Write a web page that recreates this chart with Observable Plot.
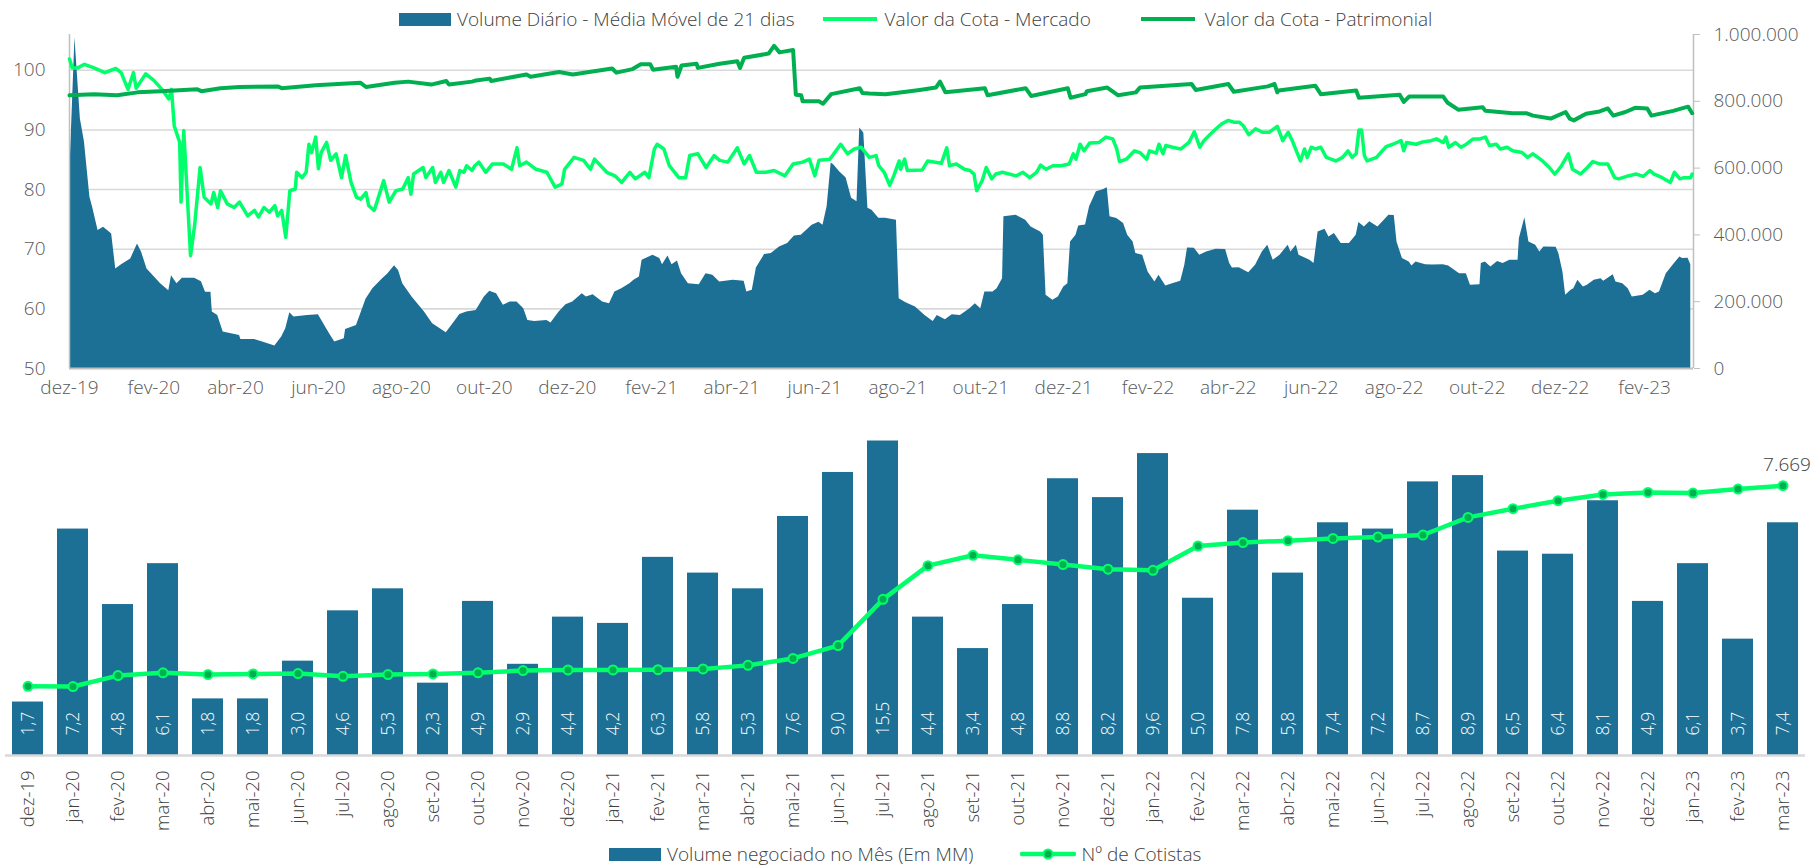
<!DOCTYPE html>
<html lang="pt-BR">
<head>
<meta charset="utf-8">
<script src="https://cdn.jsdelivr.net/npm/d3@7"></script>
<script src="https://cdn.jsdelivr.net/npm/@observablehq/plot@0.6"></script>
<style>
  html, body { margin: 0; padding: 0; background: #fff; overflow: hidden; }
  #root { position: relative; width: 1812px; height: 865px; font-family: 'Open Sans', 'DejaVu Sans', sans-serif; font-weight: 300; }
  .layer { position: absolute; left: 0; }
  .layer svg { display: block; max-width: none !important; font-weight: 300; }
  .legend { position: absolute; display: flex; align-items: center; white-space: nowrap; color: #404040; font-weight: 300; }
  .legend .item { display: flex; align-items: center; }
</style>
</head>
<body>
<div id="root"></div>
<script>
// ---------------- DATA ----------------
// Volume diário - média móvel de 21 dias
const volumeDiario = [
["2019-12-01",560000],["2019-12-05",990000],["2019-12-09",747000],["2019-12-12",678000],["2019-12-16",513000],["2019-12-18",483000],["2019-12-22",413000],["2019-12-26",423000],["2019-12-29",413000],
["2020-01-01",403000],["2020-01-04",298000],["2020-01-08",310000],["2020-01-15",328000],["2020-01-20",373000],["2020-01-23",348000],["2020-01-27",298000],
["2020-02-06",254000],["2020-02-12",233000],["2020-02-14",278000],["2020-02-18",254000],["2020-02-22",270000],
["2020-03-02",270000],["2020-03-07",260000],["2020-03-10",228000],["2020-03-14",228000],["2020-03-15",169000],["2020-03-19",159000],["2020-03-23",109000],["2020-03-29",104000],
["2020-04-04",99000],["2020-04-05",87000],["2020-04-15",87000],["2020-04-21",79000],["2020-04-30",67000],
["2020-05-05",94000],["2020-05-08",119000],["2020-05-11",167000],["2020-05-14",154000],["2020-05-24",159000],
["2020-06-01",161000],["2020-06-07",119000],["2020-06-10",99000],["2020-06-13",79000],["2020-06-20",89000],["2020-06-21",117000],["2020-06-29",129000],
["2020-07-06",207000],["2020-07-11",239000],["2020-07-18",268000],["2020-07-22",283000],["2020-07-27",308000],["2020-07-30",293000],
["2020-08-02",254000],["2020-08-09",213000],["2020-08-18",169000],["2020-08-24",134000],
["2020-09-03",107000],["2020-09-08",134000],["2020-09-13",162000],["2020-09-18",169000],["2020-09-25",174000],
["2020-10-01",214000],["2020-10-05",231000],["2020-10-10",224000],["2020-10-15",189000],["2020-10-20",199000],["2020-10-25",199000],["2020-10-30",179000],
["2020-11-02",144000],["2020-11-07",141000],["2020-11-16",144000],["2020-11-19",136000],["2020-11-25",169000],["2020-11-30",191000],
["2020-12-05",199000],["2020-12-12",224000],["2020-12-15",214000],["2020-12-20",221000],["2020-12-27",199000],
["2021-01-01",194000],["2021-01-05",229000],["2021-01-10",239000],["2021-01-16",254000],["2021-01-19",264000],["2021-01-23",274000],["2021-01-25",324000],
["2021-02-02",339000],["2021-02-07",329000],["2021-02-09",311000],["2021-02-13",337000],["2021-02-16",311000],["2021-02-20",322000],["2021-02-23",284000],["2021-02-28",254000],
["2021-03-08",251000],["2021-03-13",284000],["2021-03-18",279000],["2021-03-23",259000],
["2021-04-02",264000],["2021-04-10",261000],["2021-04-12",229000],["2021-04-16",234000],["2021-04-19",301000],["2021-04-25",341000],["2021-04-30",344000],
["2021-05-06",364000],["2021-05-12",374000],["2021-05-17",397000],["2021-05-22",399000],["2021-05-30",429000],
["2021-06-04",438000],["2021-06-07",429000],["2021-06-10",484000],["2021-06-13",615000],["2021-06-15",609000],["2021-06-19",590000],["2021-06-24",570000],["2021-06-28",510000],
["2021-07-02",499000],["2021-07-04",720000],["2021-07-07",705000],["2021-07-10",480000],["2021-07-13",474000],["2021-07-18",450000],["2021-07-23",450000],["2021-07-31",444000],
["2021-08-02",209000],["2021-08-07",197000],["2021-08-14",184000],["2021-08-21",159000],["2021-08-27",141000],["2021-08-30",159000],
["2021-09-05",146000],["2021-09-10",161000],["2021-09-16",159000],["2021-09-23",179000],["2021-09-27",194000],
["2021-10-01",179000],["2021-10-04",229000],["2021-10-10",229000],["2021-10-13",239000],["2021-10-17",269000],["2021-10-18",454000],["2021-10-27",459000],
["2021-11-03",444000],["2021-11-07",424000],["2021-11-14",409000],["2021-11-16",399000],["2021-11-18",219000],["2021-11-23",204000],["2021-11-27",214000],
["2021-12-01",244000],["2021-12-04",254000],["2021-12-06",379000],["2021-12-10",399000],["2021-12-12",427000],["2021-12-17",430000],["2021-12-20",484000],["2021-12-25",529000],["2021-12-30",535000],
["2022-01-02",541000],["2022-01-04",454000],["2022-01-09",449000],["2022-01-14",434000],["2022-01-17",399000],["2022-01-21",379000],["2022-01-23",344000],["2022-01-28",339000],
["2022-02-01",289000],["2022-02-06",259000],["2022-02-09",279000],["2022-02-14",247000],["2022-02-19",254000],["2022-02-25",261000],["2022-02-28",309000],
["2022-03-02",361000],["2022-03-07",360000],["2022-03-11",339000],["2022-03-16",349000],["2022-03-23",357000],["2022-03-30",356000],
["2022-04-02",314000],["2022-04-04",301000],["2022-04-09",302000],["2022-04-16",287000],["2022-04-21",309000],["2022-04-26",349000],["2022-04-30",369000],
["2022-05-04",324000],["2022-05-09",339000],["2022-05-15",369000],["2022-05-17",349000],["2022-05-21",369000],["2022-05-23",339000],["2022-05-31",324000],
["2022-06-03",314000],["2022-06-06",409000],["2022-06-11",417000],["2022-06-14",394000],["2022-06-18",404000],["2022-06-23",374000],["2022-06-29",374000],
["2022-07-04",399000],["2022-07-06",437000],["2022-07-10",424000],["2022-07-14",439000],["2022-07-20",424000],["2022-07-26",450000],["2022-07-28",459000],
["2022-08-01",458000],["2022-08-03",379000],["2022-08-07",329000],["2022-08-12",319000],["2022-08-14",307000],["2022-08-17",319000],["2022-08-24",311000],["2022-08-29",310000],
["2022-09-06",311000],["2022-09-10",307000],["2022-09-18",284000],["2022-09-23",284000],["2022-09-26",249000],
["2022-10-03",251000],["2022-10-04",314000],["2022-10-07",319000],["2022-10-11",304000],["2022-10-16",320000],["2022-10-20",314000],["2022-10-25",324000],["2022-10-31",324000],
["2022-11-01",389000],["2022-11-05",451000],["2022-11-08",379000],["2022-11-13",369000],["2022-11-16",349000],["2022-11-19",364000],["2022-11-28",363000],["2022-11-30",344000],
["2022-12-03",289000],["2022-12-05",219000],["2022-12-09",234000],["2022-12-11",239000],["2022-12-14",264000],["2022-12-18",244000],["2022-12-21",249000],["2022-12-26",264000],["2022-12-31",269000],
["2023-01-02",261000],["2023-01-09",281000],["2023-01-11",259000],["2023-01-16",254000],["2023-01-20",239000],["2023-01-23",214000],["2023-01-31",219000],
["2023-02-05",234000],["2023-02-09",224000],["2023-02-12",229000],["2023-02-17",284000],["2023-02-23",314000],["2023-02-27",334000],
["2023-03-01",329000],["2023-03-05",330000],["2023-03-07",311000]
];

// Valor da Cota - Mercado
const cotaMercado = [
["2019-12-01",101.9],["2019-12-03",100.4],["2019-12-07",100.4],["2019-12-12",101.0],["2019-12-19",100.4],["2019-12-27",99.6],
["2020-01-04",100.3],["2020-01-08",99.6],["2020-01-13",96.8],["2020-01-17",99.6],["2020-01-19",97.0],["2020-01-26",99.4],
["2020-02-01",98.3],["2020-02-07",96.8],["2020-02-12",95.2],["2020-02-14",96.8],["2020-02-16",90.7],["2020-02-20",87.9],["2020-02-21",77.9],["2020-02-23",89.9],["2020-02-28",68.9],
["2020-03-02",74.0],["2020-03-06",83.7],["2020-03-09",78.7],["2020-03-14",77.6],["2020-03-16",79.5],["2020-03-19",77.0],["2020-03-21",79.8],["2020-03-26",77.6],["2020-03-31",77.0],
["2020-04-04",77.9],["2020-04-10",75.6],["2020-04-15",76.5],["2020-04-18",75.4],["2020-04-22",77.0],["2020-04-26",76.2],["2020-04-30",77.3],
["2020-05-02",75.6],["2020-05-05",76.5],["2020-05-08",72.0],["2020-05-11",79.8],["2020-05-15",80.1],["2020-05-16",82.9],["2020-05-20",82.0],["2020-05-23",82.9],["2020-05-25",87.6],["2020-05-27",86.2],["2020-05-30",88.8],
["2020-06-01",83.5],["2020-06-03",86.2],["2020-06-07",87.9],["2020-06-10",84.9],["2020-06-14",86.0],["2020-06-18",82.0],["2020-06-21",85.7],["2020-06-25",81.2],["2020-06-29",78.7],
["2020-07-02",78.4],["2020-07-06",79.5],["2020-07-08",77.3],["2020-07-12",76.5],["2020-07-14",77.9],["2020-07-19",81.5],["2020-07-23",77.9],["2020-07-28",79.8],
["2020-08-02",80.1],["2020-08-06",82.0],["2020-08-08",79.2],["2020-08-10",82.6],["2020-08-17",83.7],["2020-08-19",82.0],["2020-08-24",83.7],["2020-08-26",81.2],["2020-08-30",82.9],
["2020-09-01",81.2],["2020-09-05",83.2],["2020-09-10",80.4],["2020-09-13",83.2],["2020-09-16",82.9],["2020-09-18",84.0],["2020-09-22",83.2],["2020-09-24",84.0],["2020-09-27",84.6],
["2020-10-02",82.9],["2020-10-07",84.3],["2020-10-15",84.3],["2020-10-21",83.4],["2020-10-25",87.0],["2020-10-27",84.0],
["2020-11-01",84.6],["2020-11-08",83.4],["2020-11-16",82.9],["2020-11-22",80.4],["2020-11-27",80.9],["2020-11-29",83.4],
["2020-12-06",85.4],["2020-12-13",84.9],["2020-12-18",83.4],["2020-12-21",85.1],["2020-12-30",82.9],
["2021-01-05",82.3],["2021-01-10",81.2],["2021-01-16",82.9],["2021-01-20",81.8],["2021-01-27",82.9],["2021-01-30",82.0],
["2021-02-03",86.8],["2021-02-05",87.6],["2021-02-10",86.8],["2021-02-14",84.0],["2021-02-21",82.0],["2021-02-26",82.0],
["2021-03-01",85.7],["2021-03-07",86.0],["2021-03-13",83.7],["2021-03-19",85.7],["2021-03-23",84.9],["2021-03-29",84.6],
["2021-04-05",87.0],["2021-04-10",84.3],["2021-04-14",85.7],["2021-04-19",82.9],["2021-04-26",82.9],
["2021-05-02",83.2],["2021-05-10",82.3],["2021-05-16",84.3],["2021-05-23",84.6],["2021-05-28",85.1],
["2021-06-01",82.3],["2021-06-04",84.9],["2021-06-12",85.1],["2021-06-14",85.7],["2021-06-20",87.6],["2021-06-25",86.0],["2021-06-30",86.8],
["2021-07-05",87.1],["2021-07-10",85.7],["2021-07-11",85.4],["2021-07-16",85.7],["2021-07-18",84.0],["2021-07-22",82.9],["2021-07-26",80.7],["2021-07-29",82.3],
["2021-08-02",84.8],["2021-08-03",83.4],["2021-08-06",85.1],["2021-08-08",83.2],["2021-08-19",83.3],["2021-08-23",84.8],
["2021-09-02",84.4],["2021-09-06",87.0],["2021-09-08",84.0],["2021-09-13",84.3],["2021-09-19",83.4],["2021-09-23",83.2],["2021-09-26",82.6],["2021-09-28",79.8],
["2021-10-02",81.5],["2021-10-05",83.7],["2021-10-09",81.8],["2021-10-12",82.6],["2021-10-17",82.9],["2021-10-27",82.3],
["2021-11-01",82.9],["2021-11-06",82.0],["2021-11-11",82.9],["2021-11-14",84.1],["2021-11-18",83.4],["2021-11-23",84.0],["2021-11-29",84.0],
["2021-12-05",84.3],["2021-12-08",86.0],["2021-12-10",85.1],["2021-12-13",87.6],["2021-12-16",86.5],["2021-12-20",87.8],["2021-12-27",87.9],
["2022-01-01",88.8],["2022-01-06",88.5],["2022-01-09",86.8],["2022-01-11",84.7],["2022-01-16",85.1],["2022-01-22",86.5],["2022-01-26",86.2],["2022-01-31",85.1],
["2022-02-02",86.5],["2022-02-07",86.1],["2022-02-09",87.6],["2022-02-12",86.0],["2022-02-14",87.4],["2022-02-19",87.1],["2022-02-25",86.8],
["2022-03-03",87.9],["2022-03-07",89.7],["2022-03-11",87.1],["2022-03-14",88.2],["2022-03-18",89.1],["2022-03-23",90.2],["2022-03-27",91.0],
["2022-04-01",91.6],["2022-04-05",91.3],["2022-04-09",91.3],["2022-04-12",90.7],["2022-04-16",89.2],["2022-04-21",90.2],["2022-04-26",89.6],
["2022-05-01",89.6],["2022-05-07",90.6],["2022-05-11",88.2],["2022-05-15",89.6],["2022-05-18",88.2],["2022-05-21",86.5],["2022-05-24",84.8],["2022-05-27",86.8],["2022-05-29",85.4],
["2022-06-01",87.1],["2022-06-04",86.8],["2022-06-08",87.1],["2022-06-12",85.4],["2022-06-19",84.8],["2022-06-24",85.4],["2022-06-28",86.5],
["2022-07-01",85.4],["2022-07-04",86.0],["2022-07-06",90.0],["2022-07-08",90.0],["2022-07-10",85.7],["2022-07-12",84.8],["2022-07-19",85.4],["2022-07-22",86.2],["2022-07-26",87.2],["2022-07-31",87.6],
["2022-08-06",88.2],["2022-08-08",86.5],["2022-08-10",87.9],["2022-08-17",87.6],["2022-08-22",88.0],["2022-08-28",88.2],
["2022-09-01",88.5],["2022-09-06",87.9],["2022-09-08",88.8],["2022-09-10",87.1],["2022-09-15",87.9],["2022-09-19",87.1],["2022-09-23",87.6],["2022-09-28",88.5],
["2022-10-03",88.5],["2022-10-07",88.8],["2022-10-10",87.4],["2022-10-15",87.6],["2022-10-18",86.8],["2022-10-23",87.1],["2022-10-27",86.5],
["2022-11-03",86.2],["2022-11-07",85.4],["2022-11-11",86.0],["2022-11-18",84.8],["2022-11-23",83.7],["2022-11-27",82.6],["2022-11-30",83.4],
["2022-12-02",84.0],["2022-12-07",86.0],["2022-12-10",83.4],["2022-12-16",82.6],["2022-12-21",83.7],["2022-12-25",84.7],["2022-12-30",84.3],
["2023-01-05",84.3],["2023-01-10",82.0],["2023-01-13",81.8],["2023-01-20",82.3],["2023-01-26",82.6],["2023-01-31",82.2],
["2023-02-05",83.2],["2023-02-08",82.6],["2023-02-14",82.0],["2023-02-20",81.2],["2023-02-23",82.9],["2023-02-27",81.8],
["2023-03-02",82.0],["2023-03-07",82.0],["2023-03-08",82.6]
];

// Valor da Cota - Patrimonial
const cotaPatrimonial = [
["2019-12-01",95.8],["2019-12-19",96.0],["2020-01-05",95.8],["2020-01-20",96.3],["2020-02-06",96.5],["2020-03-04",96.8],["2020-03-07",96.5],["2020-03-21",97.0],["2020-04-04",97.2],
["2020-05-02",97.3],["2020-05-05",97.0],["2020-05-30",97.5],["2020-07-02",97.9],["2020-07-06",97.2],["2020-07-27",97.9],["2020-08-06",98.1],["2020-08-23",97.6],["2020-09-03",98.2],["2020-09-05",97.6],
["2020-09-22",98.1],["2020-09-25",98.3],["2020-10-05",98.6],["2020-10-06",98.2],["2020-11-01",99.3],["2020-11-04",98.9],["2020-11-25",99.7],["2020-12-05",99.3],
["2021-01-03",100.3],["2021-01-06",99.6],["2021-01-18",100.2],["2021-01-24",101.0],["2021-01-31",101.0],["2021-02-02",100.1],["2021-02-19",100.6],["2021-02-20",98.9],["2021-02-23",100.8],
["2021-03-06",101.1],["2021-03-07",100.4],["2021-03-23",101.1],["2021-04-05",101.5],["2021-04-07",100.4],["2021-04-10",102.1],["2021-04-28",102.8],["2021-05-02",104.1],["2021-05-06",103.0],
["2021-05-16",103.4],["2021-05-18",95.9],["2021-05-22",95.8],["2021-05-23",94.8],["2021-06-04",94.8],["2021-06-07",94.4],["2021-06-13",96.0],["2021-07-04",97.0],["2021-07-06",96.2],
["2021-07-11",96.1],["2021-07-23",96.0],["2021-08-07",96.4],["2021-08-17",96.7],["2021-08-29",97.1],["2021-09-01",98.1],["2021-09-05",96.3],["2021-10-04",97.0],["2021-10-06",95.8],
["2021-11-03",97.0],["2021-11-07",95.7],["2021-12-04",97.0],["2021-12-06",95.4],["2021-12-17",96.0],["2021-12-18",96.5],["2022-01-02",97.1],["2022-01-10",95.8],["2022-01-23",96.3],
["2022-01-26",97.1],["2022-03-05",97.7],["2022-03-08",96.7],["2022-04-01",97.7],["2022-04-05",96.4],["2022-04-30",97.3],["2022-05-05",97.7],["2022-05-07",96.3],["2022-05-08",96.6],
["2022-06-04",97.4],["2022-06-08",96.0],["2022-07-04",96.6],["2022-07-06",95.4],["2022-08-05",95.9],["2022-08-08",94.7],["2022-08-12",95.6],["2022-09-06",95.6],["2022-09-09",94.6],
["2022-09-17",93.4],["2022-10-05",93.8],["2022-10-07",93.2],["2022-10-27",92.8],["2022-11-06",92.8],["2022-11-11",92.4],["2022-11-24",91.9],["2022-12-05",93.0],["2022-12-08",91.9],
["2022-12-11",91.6],["2022-12-20",92.7],["2022-12-30",93.1],["2023-01-05",93.6],["2023-01-09",92.4],["2023-01-18",93.0],["2023-01-25",93.7],["2023-02-03",93.6],["2023-02-06",92.4],
["2023-02-22",93.2],["2023-03-05",93.9],["2023-03-08",92.8]
];

// Painel inferior (mensal)
const meses = ["dez-19","jan-20","fev-20","mar-20","abr-20","mai-20","jun-20","jul-20","ago-20","set-20","out-20","nov-20",
  "dez-20","jan-21","fev-21","mar-21","abr-21","mai-21","jun-21","jul-21","ago-21","set-21","out-21","nov-21",
  "dez-21","jan-22","fev-22","mar-22","abr-22","mai-22","jun-22","jul-22","ago-22","set-22","out-22","nov-22",
  "dez-22","jan-23","fev-23","mar-23"];
const volumeMes = [1.7,7.2,4.8,6.1,1.8,1.8,3.0,4.6,5.3,2.3,4.9,2.9,4.4,4.2,6.3,5.8,5.3,7.6,9.0,15.5,4.4,3.4,4.8,8.8,
  8.2,9.6,5.0,7.8,5.8,7.4,7.2,8.7,8.9,6.5,6.4,8.1,4.9,6.1,3.7,7.4];
const cotistas = [1968,1960,2272,2349,2300,2320,2329,2252,2300,2320,2349,2414,2431,2431,2440,2462,2562,2760,3124,4439,
  5396,5691,5561,5427,5297,5263,5955,6055,6106,6171,6211,6268,6768,7015,7242,7421,7478,7461,7574,7669];

const mesesPt = ["jan","fev","mar","abr","mai","jun","jul","ago","set","out","nov","dez"];
const ticksPreco = [50,60,70,80,90,100];
const ticksVolume = [0,200000,400000,600000,800000,1000000];

// ---------------- STYLE ----------------
const corBarra = "#1c7096";
const corMercado = "#00ff6a";
const corPatrimonial = "#00b050";
const cinzaEixo = "#bfbfbf";
const cinzaGrade = "#d9d9d9";
const fonte = "'Open Sans', 'DejaVu Sans', sans-serif";

const ptBR = d3.formatLocale({decimal: ",", thousands: ".", grouping: [3], currency: ["R$ ", ""]});
const fmtMilhar = ptBR.format(",d");
const fmtDec = ptBR.format(".1f");
const parse = s => new Date(s);
const fmtMes = d => mesesPt[d.getUTCMonth()] + "-" + String(d.getUTCFullYear()).slice(2);

const xDomain = [parse("2019-12-01"), parse("2023-03-09")];
const ticksData = d3.utcMonths(parse("2019-12-01"), parse("2023-03-02")).filter((d, i) => i % 2 === 0);

const root = document.getElementById("root");
function addLayer(svg, top) {
  const div = document.createElement("div");
  div.className = "layer";
  div.style.top = top + "px";
  div.appendChild(svg);
  root.appendChild(div);
}

const topDims = {width: 1812, height: 410, marginLeft: 69, marginRight: 119, marginTop: 34, marginBottom: 42};
const baseStyle = {fontFamily: fonte, fontSize: "19px", color: "#595959", background: "transparent", overflow: "visible"};

// Layer 1: grade + eixos de preço
addLayer(Plot.plot({
  ...topDims, style: baseStyle,
  x: {type: "utc", domain: xDomain},
  y: {domain: [50, 106]},
  marks: [
    Plot.gridY(ticksPreco.slice(1), {stroke: cinzaGrade, strokeOpacity: 1, strokeWidth: 1.6}),
    Plot.axisY(ticksPreco, {tickSize: 0, tickPadding: 24, label: null}),
    Plot.axisX(ticksData, {tickSize: 0, tickPadding: 12, tickFormat: fmtMes, label: null})
  ]
}), 0);

// Layer 2: volume (área) + eixo direito
addLayer(Plot.plot({
  ...topDims, style: baseStyle,
  x: {type: "utc", domain: xDomain, axis: null},
  y: {domain: [0, 1000000]},
  marks: [
    Plot.areaY(volumeDiario, {x: d => parse(d[0]), y: d => d[1], fill: corBarra}),
    Plot.ruleX([xDomain[0]], {stroke: cinzaEixo, strokeWidth: 1.5}),
    Plot.ruleX([xDomain[1]], {stroke: cinzaEixo, strokeWidth: 1.5}),
    Plot.ruleY([0], {stroke: cinzaEixo, strokeWidth: 2}),
    Plot.axisY(ticksVolume, {anchor: "right", tickSize: 6, tickPadding: 14, tickFormat: fmtMilhar, stroke: cinzaEixo, label: null})
  ]
}), 0);

// Layer 3: linhas de cota
addLayer(Plot.plot({
  ...topDims, style: baseStyle,
  x: {type: "utc", domain: xDomain, axis: null},
  y: {domain: [50, 106], axis: null},
  marks: [
    Plot.line(cotaMercado, {x: d => parse(d[0]), y: d => d[1], stroke: corMercado, strokeWidth: 3.5}),
    Plot.line(cotaPatrimonial, {x: d => parse(d[0]), y: d => d[1], stroke: corPatrimonial, strokeWidth: 4})
  ]
}), 0);

// ---------------- PAINEL INFERIOR ----------------
const mensal = meses.map((m, i) => ({mes: m, vol: volumeMes[i], cot: cotistas[i]}));
const botDims = {width: 1812, height: 425, marginLeft: 5, marginRight: 7, marginTop: 20.5, marginBottom: 90};
const xBand = {type: "band", domain: meses, paddingInner: 0.32, paddingOuter: 0.16};

addLayer(Plot.plot({
  ...botDims, style: {...baseStyle, fontSize: "18.5px", color: "#404040"},
  x: xBand,
  y: {domain: [0, 10], axis: null},
  marks: [
    Plot.barY(mensal, {x: "mes", y: "vol", fill: corBarra, clip: true}),
    Plot.ruleY([0], {stroke: cinzaGrade, strokeWidth: 2.5}),
    Plot.text(mensal, {x: "mes", y: 0, text: d => fmtDec(d.vol), rotate: -90, textAnchor: "start", dy: -20, fill: "#ffffff", fontSize: 17.5}),
    Plot.axisX({tickRotate: -90, tickSize: 0, tickPadding: 15, label: null})
  ]
}), 420);

addLayer(Plot.plot({
  ...botDims, style: {...baseStyle, fontSize: "18px", color: "#404040"},
  x: {...xBand, axis: null},
  y: {domain: [0, 8940], axis: null},
  marks: [
    Plot.line(mensal, {x: "mes", y: "cot", stroke: corMercado, strokeWidth: 4.5}),
    Plot.dot(mensal, {x: "mes", y: "cot", r: 4.5, fill: corPatrimonial, stroke: corMercado, strokeWidth: 2}),
    Plot.text(mensal.slice(-1), {x: "mes", y: "cot", text: d => fmtMilhar(d.cot), dy: -21, dx: 4, fontSize: 19, fill: "#404040"})
  ]
}), 420);

// ---------------- LEGENDAS ----------------
function legend(left, top, fontSize, items) {
  const div = document.createElement("div");
  div.className = "legend";
  div.style.left = left + "px";
  div.style.top = top + "px";
  div.style.fontSize = fontSize + "px";
  div.style.lineHeight = "16px";
  items.forEach((it, i) => {
    const item = document.createElement("div");
    item.className = "item";
    if (i > 0) item.style.marginLeft = it.gap + "px";
    let sw;
    if (it.type === "rect") {
      sw = `<svg width="52" height="13" style="display:block"><rect width="52" height="13" fill="${it.color}"/></svg>`;
    } else if (it.type === "line") {
      sw = `<svg width="54" height="8" style="display:block"><line x1="0" x2="54" y1="4" y2="4" stroke="${it.color}" stroke-width="4" stroke-linecap="round"/></svg>`;
    } else {
      sw = `<svg width="56" height="14" style="display:block"><line x1="2" x2="54" y1="7" y2="7" stroke="${corMercado}" stroke-width="4.5" stroke-linecap="round"/><circle cx="28" cy="7" r="4.5" fill="${corPatrimonial}" stroke="${corMercado}" stroke-width="2"/></svg>`;
    }
    item.innerHTML = sw + `<span style="margin-left:${it.pad}px">${it.label}</span>`;
    div.appendChild(item);
  });
  root.appendChild(div);
}

legend(399, 11, 19, [
  {type: "rect", color: corBarra, label: "Volume Diário - Média Móvel de 21 dias", pad: 6, gap: 0},
  {type: "line", color: corMercado, label: "Valor da Cota - Mercado", pad: 8, gap: 28},
  {type: "line", color: corPatrimonial, label: "Valor da Cota - Patrimonial", pad: 10, gap: 50}
]);

legend(609, 846, 19, [
  {type: "rect", color: corBarra, label: "Volume negociado no Mês (Em MM)", pad: 6, gap: 0},
  {type: "dotline", label: "Nº de Cotistas", pad: 6, gap: 46}
]);
</script>
</body>
</html>
